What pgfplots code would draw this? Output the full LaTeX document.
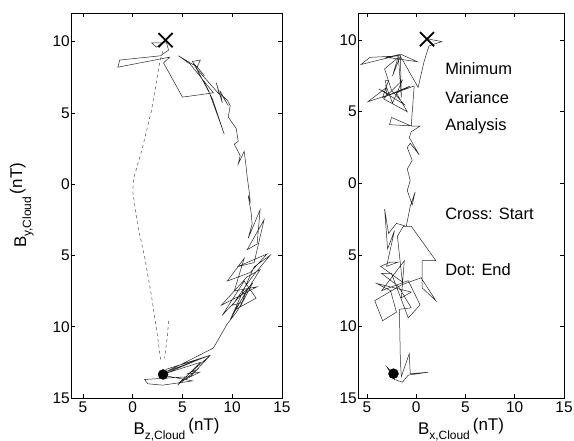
\documentclass[border=0pt]{standalone}
\usepackage{fontspec}
\setmainfont{Liberation Sans}
\usepackage{pgfplots}
\pgfplotsset{compat=1.18}

\newcommand{\lab}[1]{\fontsize{17}{20}\selectfont B\raisebox{-5bp}{\fontsize{12}{14}\selectfont #1}\hspace{3bp}\raisebox{4bp}{(nT)}}

\pgfplotsset{hodo/.style={
  scale only axis, height=385bp,
  xmax=15, ymin=-15,
  xtick={-5,0,5,10,15}, xticklabels={5,0,5,10,15},
  ytick={-15,-10,-5,0,5,10}, yticklabels={15,10,5,0,5,10},
  axis line style={line width=0.8pt},
  tick style={black, line width=0.6pt}, major tick length=4bp,
  /pgf/number format/assume math mode=true,
  tick label style={font=\fontsize{15.5}{18}\selectfont},
  yticklabel style={inner sep=1bp},
  xticklabel style={inner sep=1bp, yshift=-3bp},
  xlabel style={anchor=base},
  clip=false,
}}
\tikzset{trace/.style={black!85, line width=0.5pt},
  start/.style={only marks, mark=x, mark size=10bp, mark options={line width=1.8pt}},
  stop/.style={only marks, mark=*, mark size=5bp}}

\begin{document}
\begin{tikzpicture}[x=1bp,y=1bp]
% left: B_y against B_z
\begin{axis}[hodo, name=L, width=211bp, xmin=-6.2, ymax=12,
  xlabel={\lab{z,Cloud}},
  xlabel style={at={(axis description cs:0.5,-0.096)}},
  ylabel={\lab{y,Cloud}},
  ylabel style={at={(axis description cs:-0.213,0.5)}, anchor=base}]
\coordinate (LSW) at (rel axis cs:0,0);
\addplot[trace] coordinates {
(3.3,10.1)(2.4,9.6)(1.9,9.9)(3.4,9.9)(3.6,9.4)(2.8,9.0)(-1.3,8.7)(-1.5,8.2)
(3.7,8.9)(3.1,8.5)(5.0,6.1)(8.1,6.4)(5.8,8.4)(4.6,9.0)(6.5,8.2)(7.2,7.6)
(6.1,8.5)(8.0,6.0)(9.2,3.5)(7.6,6.6)(6.0,8.6)(6.8,8.7)(6.4,8.1)(8.7,6.3)
(8.4,7.1)(9.0,5.7)(8.8,6.5)(9.6,5.5)(9.0,6.2)(9.5,5.9)(9.8,5.5)(9.6,4.7)
(10.4,3.9)(10.6,3.0)(10.2,2.8)(10.8,2.0)(10.6,1.4)(11.2,2.3)(11.4,1.2)
(11.5,0.5)(11.7,-0.5)(11.8,-1.2)(11.6,-0.8)(11.9,-2.0)(12.0,-2.8)(11.6,-3.8)
(12.8,-1.8)(12.5,-4.2)(11.5,-4.6)(13.2,-2.5)(12.2,-5.5)(10.5,-5.8)(13.5,-4.9)
(11.8,-6.2)(9.5,-6.8)(11.2,-5.2)(10.2,-7.5)(12.5,-7.2)(8.9,-8.5)(11.5,-6.5)
(12.8,-6.0)(10.3,-8.8)(12.4,-8.0)(11.2,-6.8)(9.0,-9.2)(10.6,-8.0)(12.0,-7.0)
(10.8,-8.6)(11.5,-7.4)(9.8,-9.5)(12.2,-5.8)(13.8,-5.0)(12.0,-6.5)(10.0,-8.5)
(11.0,-8.3)(10.4,-9.0)(9.5,-9.8)(8.1,-11.5)(5.0,-12.6)(3.2,-13.2)(7.8,-12.0)
(3.3,-13.0)(7.0,-12.2)(3.2,-13.3)(6.8,-12.5)(4.5,-14.1)(6.5,-13.0)(5.5,-13.3)
(6.7,-13.2)(4.7,-13.9)(7.8,-12.0)(5.8,-13.5)(3.5,-13.6)(1.2,-13.7)(1.5,-14.0)
(3.0,-14.1)(5.0,-13.9)(6.0,-13.8)(3.0,-13.4)
};
\addplot[black!70, line width=0.5pt, dashed] coordinates {
(3.0,9.3)(2.7,8.5)(1.9,5.2)(1.0,2.6)(0.1,0.4)(0.0,-0.5)(0.5,-2.9)(1.2,-5.1)
(1.9,-7.9)(2.5,-10.7)(2.8,-12.3)};
\addplot[black!70, line width=0.5pt, dashed] coordinates {
(3.6,-9.6)(3.5,-10.6)(3.2,-12.2)};
\addplot[start] coordinates {(3.3,10.1)};
\addplot[stop] coordinates {(3.05,-13.35)};
\end{axis}
% right: B_y against B_x
\begin{axis}[hodo, name=R, at={(287bp,0bp)}, width=206bp, xmin=-5.9, ymax=11.9,
  xlabel={\lab{x,Cloud}},
  xlabel style={at={(axis description cs:0.5,-0.094)}}]
\addplot[trace] coordinates {
(1.1,10.1)(2.6,9.9)(1.3,9.6)(0.8,8.5)(0.2,6.7)(-1.7,9.0)(-3.0,8.8)(0.1,8.5)
(-1.5,9.0)(-5.6,8.3)(-4.7,8.8)(-1.8,8.9)(-2.4,7.5)(-1.6,8.9)(-1.5,6.0)(-1.8,8.8)
(-3.2,8.0)(-2.5,6.5)(-1.2,5.5)(-3.8,6.6)(-2.7,6.2)(-4.9,5.7)(-3.0,6.7)(-2.4,5.6)
(-1.4,7.2)(-3.3,5.9)(-0.9,5.0)(-2.0,6.3)(-0.6,6.8)(-3.4,6.0)(-2.8,7.2)(-3.1,7.2)
(-3.0,6.1)(-0.2,6.8)(-0.5,4.0)(-2.5,4.6)(-2.7,4.1)(-0.3,4.0)(0.4,4.0)(-0.5,3.6)
(-0.7,3.2)(0.3,2.0)(-0.6,2.8)(-0.9,2.5)(-0.4,1.6)(-0.9,1.0)(-0.6,0.2)(-0.9,-0.5)
(-0.4,-1.5)(-0.1,-0.6)(-0.6,-1.6)(-1.0,-3.0)(-2.0,-2.8)(-2.8,-3.5)(-3.2,-1.8)
(-2.9,-4.6)(-2.2,-3.3)(-3.0,-5.8)(-1.8,-5.5)(-2.6,-5.5)(-3.6,-5.8)(-1.4,-6.9)
(-1.9,-3.7)(-1.3,-3.0)(-0.5,-3.0)(2.0,-5.4)(0.6,-5.4)(0.6,-7.3)(2.0,-8.2)
(0.5,-6.6)(-1.5,-7.1)(-4.2,-8.2)(-3.4,-9.6)(-2.0,-9.0)(-2.6,-7.5)(-4.0,-7.0)
(-0.5,-7.6)(-1.5,-8.0)(-1.2,-5.4)(-3.5,-7.5)(-0.8,-6.8)(0.4,-8.5)(-0.8,-9.4)
(-2.5,-6.3)(-3.5,-6.3)(-1.8,-7.2)(-0.5,-8.7)(-1.7,-8.8)(-1.6,-12.5)(-1.5,-13.5)
(-0.7,-11.9)(-0.6,-13.3)(1.2,-13.2)(-0.8,-13.4)(-1.4,-13.9)(-2.2,-13.7)
(-3.0,-12.8)(-2.3,-13.3)
};
\addplot[start] coordinates {(1.1,10.07)};
\addplot[stop] coordinates {(-2.3,-13.3)};
\begin{scope}[font=\fontsize{16.5}{20}\selectfont]
\node[anchor=west] at (axis cs:2.6,8.0) {Minimum};
\node[anchor=west] at (axis cs:2.6,6.0) {Variance};
\node[anchor=west] at (axis cs:2.6,4.0) {Analysis};
\node[anchor=west] at (axis cs:2.6,-2.1) {Cross: Start};
\node[anchor=west] at (axis cs:2.6,-6.0) {Dot: End};
\end{scope}
\end{axis}
\pgfresetboundingbox
\path (LSW) ++(-71bp,-43bp) rectangle ++(574bp,441bp);
\end{tikzpicture}
\end{document}
